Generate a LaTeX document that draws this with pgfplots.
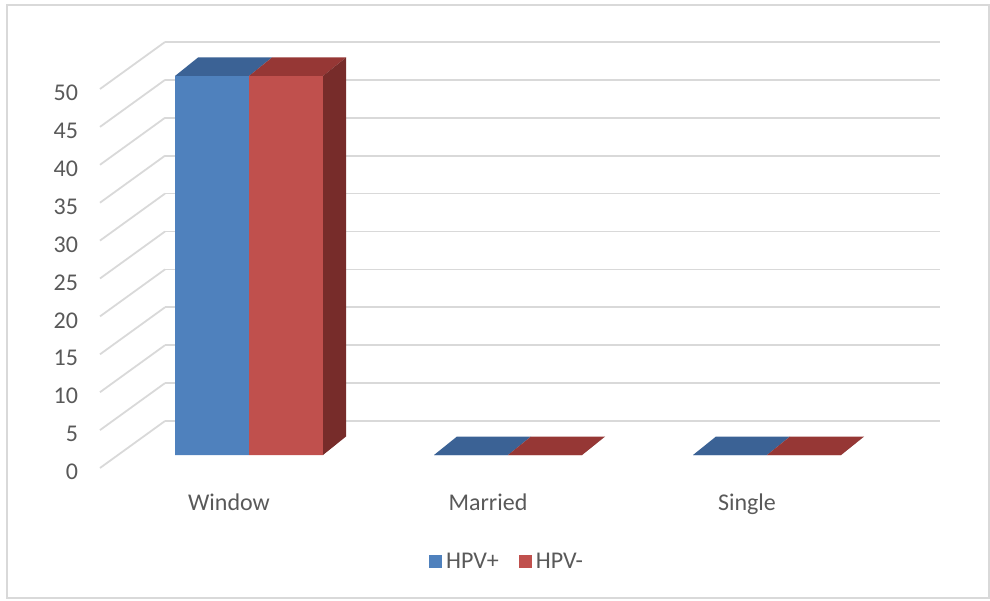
\documentclass[border=0pt]{standalone}
\usepackage{pgfplots}
\pgfplotsset{compat=1.18}
\usepackage{fontspec}
\setmainfont{Carlito}
\definecolor{bluefront}{HTML}{4F81BD}
\definecolor{redfront}{HTML}{C0504D}
\definecolor{bluetop}{HTML}{3B6295}
\definecolor{redtop}{HTML}{963735}
\definecolor{redside}{HTML}{772C2A}
\definecolor{gridc}{HTML}{D9D9D9}
\definecolor{txt}{HTML}{595959}
\definecolor{framec}{HTML}{D9D9D9}

\pgfdeclareplotmark{bluetopface}{%
  \pgfpathmoveto{\pgfpoint{-37pt}{0pt}}%
  \pgfpathlineto{\pgfpoint{0pt}{0pt}}%
  \pgfpathlineto{\pgfpoint{11.5pt}{9.25pt}}%
  \pgfpathlineto{\pgfpoint{-25.5pt}{9.25pt}}%
  \pgfpathclose
  \pgfsetfillcolor{bluetop}\pgfusepathqfill
}
\pgfdeclareplotmark{redbox}{%
  \pgfmathsetlengthmacro{\barh}{\valy*3.79pt}%
  \pgfpathmoveto{\pgfpoint{0pt}{0pt}}%
  \pgfpathlineto{\pgfpoint{37pt}{0pt}}%
  \pgfpathlineto{\pgfpoint{48.5pt}{9.25pt}}%
  \pgfpathlineto{\pgfpoint{11.5pt}{9.25pt}}%
  \pgfpathclose
  \pgfsetfillcolor{redtop}\pgfusepathqfill
  \pgfpathmoveto{\pgfpoint{37pt}{0pt}}%
  \pgfpathlineto{\pgfpoint{48.5pt}{9.25pt}}%
  \pgfpathlineto{\pgfpoint{48.5pt}{9.25pt-\barh}}%
  \pgfpathlineto{\pgfpoint{37pt}{-\barh}}%
  \pgfpathclose
  \pgfsetfillcolor{redside}\pgfusepathqfill
}

\begin{document}
\begin{tikzpicture}
\useasboundingbox (0,0) rectangle (495pt,300pt);
\draw[framec, line width=0.75pt] (3.5pt,1pt) rectangle (494.5pt,297.5pt);

% back wall with grid
\begin{axis}[
  at={(82.5pt,89.5pt)}, anchor=south west,
  x=0.5pt, y=3.79pt, xmin=165, xmax=940, ymin=0, ymax=50,
  hide x axis, axis y line=left, y axis line style={draw=none},
  ytick={0,5,...,50}, ytick style={draw=none}, major tick length=0pt,
  ymajorgrids, grid style={gridc, line width=0.9pt},
  yticklabel style={font=\fontsize{12}{14}\selectfont, text=txt, anchor=east, xshift=-40pt, yshift=-25.5pt},
  /pgf/number format/assume math mode=true,
  clip=false,
]
\pgfplotsinvokeforeach{0,5,...,50}{\draw[gridc, line width=0.9pt] (axis cs:165,#1) -- ++(-32.5pt,-23.5pt);}
\end{axis}

% front plane with bars
\begin{axis}[
  at={(59.75pt,72.5pt)}, anchor=south west,
  x=129.5pt, y=3.79pt, xmin=-0.5, xmax=2.5, ymin=0, ymax=50,
  enlargelimits=false, clip=false,
  hide y axis, axis x line=bottom, x axis line style={draw=none},
  xtick={0,1,2}, xticklabels={Window,Married,Single},
  xtick style={draw=none}, major tick length=0pt,
  xticklabel style={font=\fontsize{12}{14}\selectfont, text=txt, anchor=north, xshift=-10pt, yshift=-15.75pt},
  legend style={draw=none, fill=none, at={(0.5,-0.282)}, anchor=center,
    font=\fontsize{12}{14}\selectfont, text=txt,
    /tikz/every even column/.append style={column sep=8pt}},
  legend columns=2,
]
\addplot[ybar, bar width=37pt, bar shift=-18.5pt, fill=bluefront, draw=none,
  legend image code/.code={\fill[bluefront] (0pt,-3.25pt) rectangle (6.5pt,3.25pt);}]
  coordinates {(0,50) (1,0) (2,0)};
\addplot[ybar, bar width=37pt, bar shift=18.5pt, fill=redfront, draw=none,
  legend image code/.code={\fill[redfront] (0pt,-3.25pt) rectangle (6.5pt,3.25pt);}]
  coordinates {(0,50) (1,0) (2,0)};
\addplot[forget plot, scatter, only marks, mark=bluetopface,
  scatter/@pre marker code/.code={}, scatter/@post marker code/.code={}]
  coordinates {(0,50) (1,0) (2,0)};
\addplot[forget plot, scatter, only marks, mark=redbox,
  visualization depends on={rawy \as \valy},
  scatter/@pre marker code/.code={}, scatter/@post marker code/.code={}]
  coordinates {(0,50) (1,0) (2,0)};
\legend{HPV+,HPV-}
\end{axis}
\end{tikzpicture}
\end{document}
